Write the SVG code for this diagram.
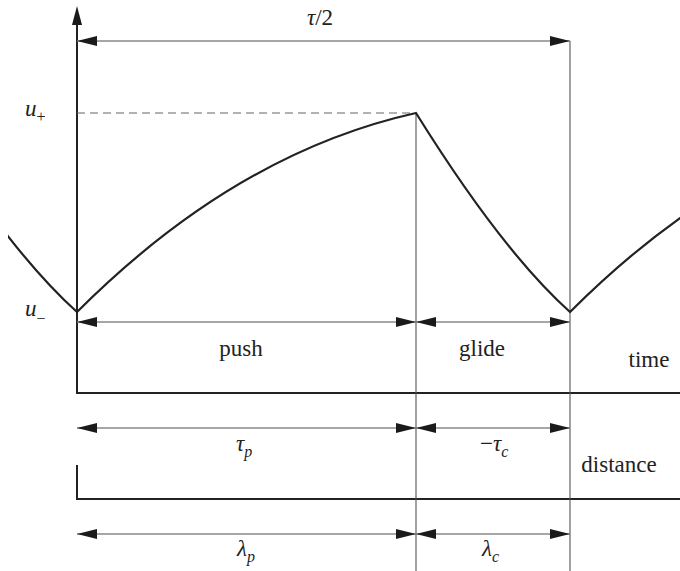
<svg xmlns="http://www.w3.org/2000/svg" width="680" height="571" viewBox="0 0 680 571">
<style>
.t{font-size:23px;fill:#222}
.i{font-style:italic}
.s{font-size:16px}
.dim{stroke:#888;stroke-width:1.3;fill:none;marker-start:url(#ah);marker-end:url(#ah)}
.div{stroke:#555;stroke-width:1.1;fill:none}
.ax{stroke:#222;stroke-width:2;fill:none}
.cv{stroke:#222;stroke-width:2.2;fill:none}
</style>
<defs>
<marker id="ah" markerUnits="userSpaceOnUse" markerWidth="20" markerHeight="10" refX="20" refY="5" orient="auto-start-reverse" viewBox="0 0 20 10">
<path d="M0,0 L20,5 L0,10 z" fill="#1a1a1a"/>
</marker>
<clipPath id="clip"><rect x="8" y="0" width="672" height="571"/></clipPath>
</defs>
<g id="axes">
<line class="ax" x1="77" y1="22" x2="77" y2="394"/>
<path d="M77,6 L82,25 L72,25 z" fill="#1a1a1a"/>
<line class="ax" x1="76" y1="393" x2="680" y2="393"/>
<polyline class="ax" points="77,465 77,499 680,499"/>
</g>
<g id="dividers">
<line class="div" x1="416" y1="113" x2="416" y2="571"/>
<line class="div" x1="570" y1="41" x2="570" y2="571"/>
<line x1="77" y1="113" x2="416" y2="113" stroke="#666" stroke-width="1.2" stroke-dasharray="8,5"/>
</g>
<g id="curve" clip-path="url(#clip)">
<path class="cv" d="M-77,113 Q9,251 77,312 Q236,153 416,113 Q502,251 570,312 Q729,153 909,113"/>
</g>
<g id="connectors">
<line class="dim" x1="77" y1="41" x2="570" y2="41"/>
<line class="dim" x1="77" y1="322" x2="416" y2="322"/>
<line class="dim" x1="416" y1="322" x2="570" y2="322"/>
<line class="dim" x1="77" y1="428" x2="416" y2="428"/>
<line class="dim" x1="416" y1="428" x2="570" y2="428"/>
<line class="dim" x1="77" y1="534" x2="416" y2="534"/>
<line class="dim" x1="416" y1="534" x2="570" y2="534"/>
</g>
<g id="labels" font-family="'Liberation Serif', 'Times New Roman', 'DejaVu Serif', serif">
<text class="t" x="320" y="25" text-anchor="middle" font-size="24"><tspan class="i">τ</tspan>/2</text>
<text class="t i" x="25" y="116">u<tspan class="s" font-style="normal" dy="6">+</tspan></text>
<text class="t i" x="25" y="316">u<tspan class="s" font-style="normal" dy="8">−</tspan></text>
<text class="t" x="241" y="356" text-anchor="middle">push</text>
<text class="t" x="482" y="356" text-anchor="middle">glide</text>
<text class="t" x="649" y="367" text-anchor="middle">time</text>
<text class="t i" x="236" y="451">τ<tspan class="s" dy="6">p</tspan></text>
<text class="t" x="480" y="451">−<tspan class="i">τ</tspan><tspan class="s i" dy="6">c</tspan></text>
<text class="t" x="619" y="472" text-anchor="middle">distance</text>
<text class="t i" x="237" y="556">λ<tspan class="s" dy="6">p</tspan></text>
<text class="t i" x="482" y="556">λ<tspan class="s" dy="6">c</tspan></text>
</g>
</svg>
